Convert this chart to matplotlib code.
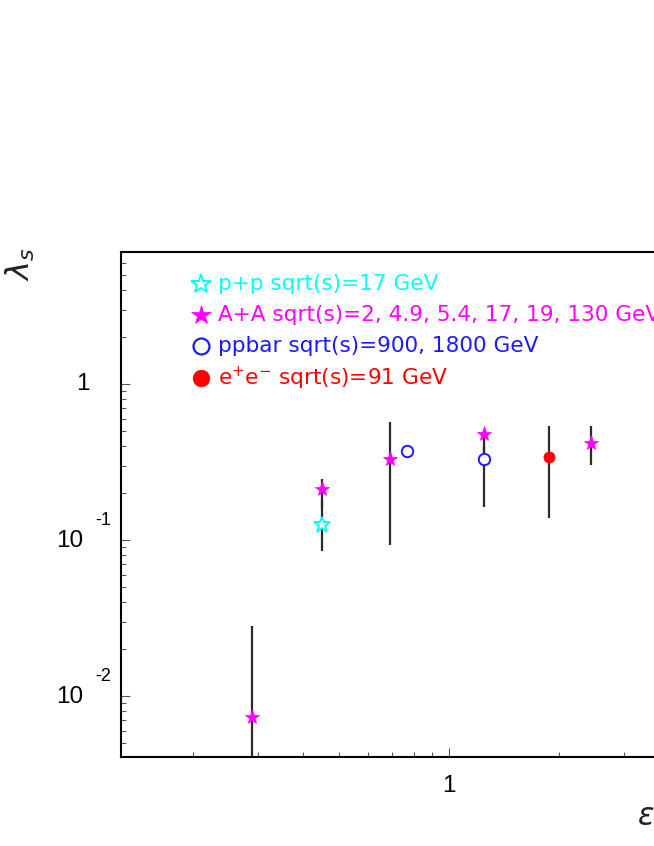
import matplotlib
matplotlib.use("Agg")
import matplotlib.pyplot as plt
from matplotlib.lines import Line2D
import numpy as np

# ---------------- data ----------------
# A+A (magenta filled stars)
aa_x = [0.289, 0.45, 0.689, 1.246, 2.44]
aa_y = [0.00736, 0.211, 0.329, 0.478, 0.42]
aa_lo = [0.001, 0.16, 0.093, 0.33, 0.304]
aa_hi = [0.0281, 0.247, 0.568, 0.478, 0.538]

# p+p (cyan open star)
pp_x = [0.45]
pp_y = [0.124]
pp_lo = [0.085]
pp_hi = [0.18]

# ppbar (blue open circles)
ppbar_x = [0.769, 1.246]
ppbar_y = [0.374, 0.329]
ppbar_lo = [0.374, 0.163]
ppbar_hi = [0.374, 0.40]

# e+e- (red filled circle)
ee_x = [1.88]
ee_y = [0.339]
ee_lo = [0.138]
ee_hi = [0.538]

legend_labels = ["p+p sqrt(s)=17 GeV",
                 "A+A sqrt(s)=2, 4.9, 5.4, 17, 19, 130 GeV",
                 "ppbar sqrt(s)=900, 1800 GeV",
                 r"e$^{+}$e$^{-}$ sqrt(s)=91 GeV"]

ytick_values = [1e-2, 1e-1, 1.0]
ytick_bases = ["10", "10", "1"]
ytick_exps = ["-2", "-1", ""]
xtick_values = [1.0]
xtick_labels = ["1"]

x_label = r"$\varepsilon$"
y_label = r"$\lambda_{s}$"

# ---------------- figure ----------------
W, H = 654, 846
fig = plt.figure(figsize=(W / 100, H / 100), dpi=100)
ax_left, ax_right, ax_top, ax_bot = 121, 760, 252, 757
ax = fig.add_axes([ax_left / W, (H - ax_bot) / H, (ax_right - ax_left) / W, (ax_bot - ax_top) / H])
ax.set_xscale("log")
ax.set_yscale("log")
ax.set_xlim(0.1270, 7.07)
ax.set_ylim(0.00406, 7.02)

for s in ["left", "bottom", "top", "right"]:
    ax.spines[s].set_linewidth(1.5)
    ax.spines[s].set_color("black")

ax.tick_params(which="both", direction="in", top=False, right=False,
               labelleft=False, labelbottom=False, color="#555555", width=0.8)
ax.tick_params(which="major", length=6.5)
ax.tick_params(which="minor", length=3.6)
ax.set_xticks(xtick_values)
ax.set_yticks(ytick_values)
ax.yaxis.set_minor_locator(matplotlib.ticker.LogLocator(base=10, subs=np.arange(2, 10)))
ax.xaxis.set_minor_locator(matplotlib.ticker.LogLocator(base=10, subs=np.arange(2, 10)))
ax.yaxis.set_minor_formatter(matplotlib.ticker.NullFormatter())
ax.xaxis.set_minor_formatter(matplotlib.ticker.NullFormatter())

ebar_color = "#2a2a2a"

def errs(y, lo, hi):
    y = np.array(y); lo = np.array(lo); hi = np.array(hi)
    return np.vstack([y - lo, hi - y])

ax.errorbar(aa_x, aa_y, yerr=errs(aa_y, aa_lo, aa_hi), fmt="none", ecolor=ebar_color,
            elinewidth=1.6, capsize=0, zorder=2)
ax.errorbar(pp_x, pp_y, yerr=errs(pp_y, pp_lo, pp_hi), fmt="none", ecolor=ebar_color,
            elinewidth=1.6, capsize=0, zorder=2)
ax.errorbar(ppbar_x, ppbar_y, yerr=errs(ppbar_y, ppbar_lo, ppbar_hi), fmt="none", ecolor=ebar_color,
            elinewidth=1.6, capsize=0, zorder=2)
ax.errorbar(ee_x, ee_y, yerr=errs(ee_y, ee_lo, ee_hi), fmt="none", ecolor=ebar_color,
            elinewidth=1.6, capsize=0, zorder=2)

ax.plot(aa_x, aa_y, ls="none", marker="*", ms=11, mfc="#ff00ff", mec="#ff00ff", mew=0.5, zorder=4)
ax.plot(pp_x, pp_y, ls="none", marker="*", ms=12, mfc="white", mec="#00ffff", mew=1.4, zorder=4)
ax.plot(ppbar_x, ppbar_y, ls="none", marker="o", ms=8.2, mfc="white", mec="#1a1aff", mew=1.4, zorder=4)
ax.plot(ee_x, ee_y, ls="none", marker="o", ms=8, mfc="#ff0000", mec="#ff0000", mew=0.5, zorder=4)

# ---------------- tick labels ----------------
tick_font = dict(family=["Liberation Sans", "DejaVu Sans"], color="black")
px = 0.72  # points per pixel
for v, b, e in zip(ytick_values, ytick_bases, ytick_exps):
    if e == "":
        ax.annotate(b, xy=(0, v), xycoords=("axes fraction", "data"),
                    xytext=(-31 * px, 0), textcoords="offset points",
                    ha="right", va="center", fontsize=17.5, **tick_font)
    else:
        ax.annotate(b, xy=(0, v), xycoords=("axes fraction", "data"),
                    xytext=(-37.7 * px, -1.5 * px), textcoords="offset points",
                    ha="right", va="center", fontsize=17.5, **tick_font)
        ax.annotate(e, xy=(0, v), xycoords=("axes fraction", "data"),
                    xytext=(-26 * px, 19 * px), textcoords="offset points",
                    ha="left", va="center", fontsize=13, **tick_font)
for v, lab in zip(xtick_values, xtick_labels):
    ax.annotate(lab, xy=(v, 0), xycoords=("data", "axes fraction"),
                xytext=(0, -29 * px), textcoords="offset points",
                ha="center", va="center", fontsize=17.5, **tick_font)

# axis titles
fig.text(637 / W, 1 - 816 / H, x_label, ha="left", va="center", fontsize=22, color="#222222")
fig.text(20 / W, 1 - 264 / H, y_label, ha="center", va="center", fontsize=23, rotation=90, color="#222222")

# ---------------- legend ----------------
leg_colors = ["#00ffff", "#ff00ff", "#1a1aff", "#ff0000"]
leg_markers = [dict(marker="*", ms=14.5, mfc="white", mec="#00ffff", mew=1.4),
               dict(marker="*", ms=14.5, mfc="#ff00ff", mec="#ff00ff", mew=0.5),
               dict(marker="o", ms=11.5, mfc="white", mec="#1a1aff", mew=1.6),
               dict(marker="o", ms=12, mfc="#ff0000", mec="#ff0000", mew=0.5)]
leg_rows_y = [284, 315, 346, 378]
for lab, col, mk, yy in zip(legend_labels, leg_colors, leg_markers, leg_rows_y):
    fig.add_artist(Line2D([201 / W], [1 - yy / H], transform=fig.transFigure, ls="none", **mk))
    fig.text(218 / W, 1 - yy / H, lab, ha="left", va="center", fontsize=15.6,
             color=col, family=["DejaVu Sans"])

fig.savefig("out.png", dpi=100)
